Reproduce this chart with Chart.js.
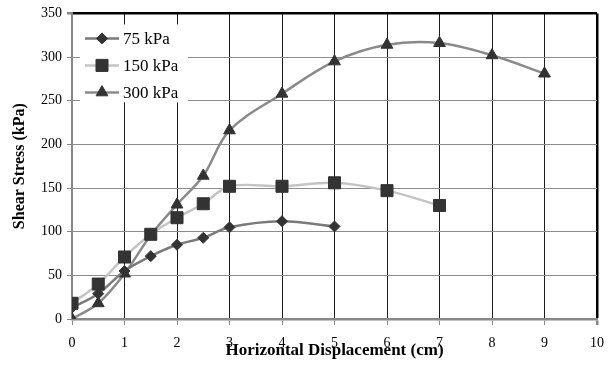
<!DOCTYPE html>
<html><head><meta charset="utf-8">
<script src="https://cdn.jsdelivr.net/npm/chart.js@4/dist/chart.umd.min.js"></script>
<style>html,body{margin:0;padding:0;background:#fff}#wrap{width:614px;height:365px;position:relative}</style>
</head><body><div id="wrap"><canvas id="c" width="614" height="365"></canvas></div>
<script>
const xTicks = [0,1,2,3,4,5,6,7,8,9,10];
const yTicks = [0,50,100,150,200,250,300,350];
const seriesNames = ['75 kPa','150 kPa','300 kPa'];
const disp75 = [0,0.5,1,1.5,2,2.5,3,4,5];
const stress75 = [13,29,55,72,85,93,105,112,106];
const disp150 = [0,0.5,1,1.5,2,2.5,3,4,5,6,7];
const stress150 = [18,40,71,97,116,132,152,152,156,147,130];
const disp300 = [0,0.5,1,1.5,2,2.5,3,4,5,6,7,8,9];
const stress300 = [0,18,52,96,131,164,216,258,295,314,316,302,281];
const xTitle = 'Horizontal Displacement (cm)';
const yTitle = 'Shear Stress (kPa)';

const SERIF = "'Liberation Serif','Times New Roman',serif";
const pts = (xs, ys) => xs.map((x, i) => ({x, y: ys[i]}));
const styles = [
  {line:'#7a7a7a', pointStyle:'rectRot', r:5.5},
  {line:'#c4c4c4', pointStyle:'rect', r:8.5},
  {line:'#8a8a8a', pointStyle:'triangle', r:6.8}
];
const dataSets = [pts(disp75, stress75), pts(disp150, stress150), pts(disp300, stress300)];

const boxLegend = {
  id: 'boxLegend',
  afterDraw(chart) {
    const ctx = chart.ctx, a = chart.chartArea;
    const bx = a.left + 8, by = a.top + 11;
    ctx.save();
    ctx.fillStyle = '#fff';
    ctx.fillRect(bx, by, 108, 78);
    seriesNames.forEach((name, i) => {
      const y = by + 14 + i * 27;
      const st = styles[i];
      ctx.strokeStyle = st.line; ctx.lineWidth = 2.5;
      ctx.beginPath(); ctx.moveTo(bx + 5, y); ctx.lineTo(bx + 39, y); ctx.stroke();
      ctx.fillStyle = '#333'; ctx.strokeStyle = '#333'; ctx.lineWidth = 1;
      Chart.helpers.drawPoint(ctx, {pointStyle: st.pointStyle, radius: st.r, rotation: 0, borderWidth: 1}, bx + 22, y);
      ctx.fillStyle = '#000';
      ctx.font = '17px ' + SERIF;
      ctx.textBaseline = 'middle'; ctx.textAlign = 'left';
      ctx.fillText(name, bx + 43, y + 1);
    });
    ctx.restore();
  }
};

new Chart(document.getElementById('c'), {
  type: 'line',
  data: {
    datasets: seriesNames.map((name, i) => ({
      label: name,
      data: dataSets[i],
      borderColor: styles[i].line,
      borderWidth: 2.5,
      backgroundColor: '#333',
      pointBackgroundColor: '#333',
      pointBorderColor: '#333',
      pointBorderWidth: 1,
      pointStyle: styles[i].pointStyle,
      pointRadius: styles[i].r,
      tension: 0.35,
      fill: false,
      order: [1, 0, 2][i]
    }))
  },
  options: {
    responsive: false,
    devicePixelRatio: 1,
    animation: false,
    layout: {padding: {top: 11, right: 16, left: 0, bottom: 0}},
    plugins: {legend: {display: false}, tooltip: {enabled: false}},
    scales: {
      x: {
        type: 'linear', min: 0, max: 10,
        afterBuildTicks: s => { s.ticks = xTicks.map(v => ({value: v})); },
        afterFit: s => { s.height = 46; },
        ticks: {font: {family: SERIF, size: 14}, color: '#000', padding: 10, maxRotation: 0},
        grid: {
          color: c => c.tick && c.tick.value === 10 ? '#000' : '#1c1c1c',
          lineWidth: c => c.tick && c.tick.value === 10 ? 2.5 : 1,
          tickLength: 6, tickColor: '#888', drawTicks: true
        },
        border: {color: '#888', width: 2.5},
        title: {display: true, text: xTitle, font: {family: SERIF, size: 17, weight: 'bold'}, color: '#000', padding: {top: 0, bottom: 4}}
      },
      y: {
        type: 'linear', min: 0, max: 350,
        afterBuildTicks: s => { s.ticks = yTicks.map(v => ({value: v})); },
        afterFit: s => { s.width = 72; },
        ticks: {font: {family: SERIF, size: 14}, color: '#000', padding: 5},
        grid: {
          color: c => c.tick && c.tick.value === 350 ? '#000' : '#8c8c8c',
          lineWidth: c => c.tick && c.tick.value === 350 ? 2.5 : 1,
          tickLength: 5, tickColor: '#888'
        },
        border: {color: '#888', width: 2},
        title: {display: true, text: yTitle, font: {family: SERIF, size: 16, weight: 'bold'}, color: '#000', padding: {top: 10, bottom: 0}}
      }
    }
  },
  plugins: [boxLegend]
});
</script></body></html>
